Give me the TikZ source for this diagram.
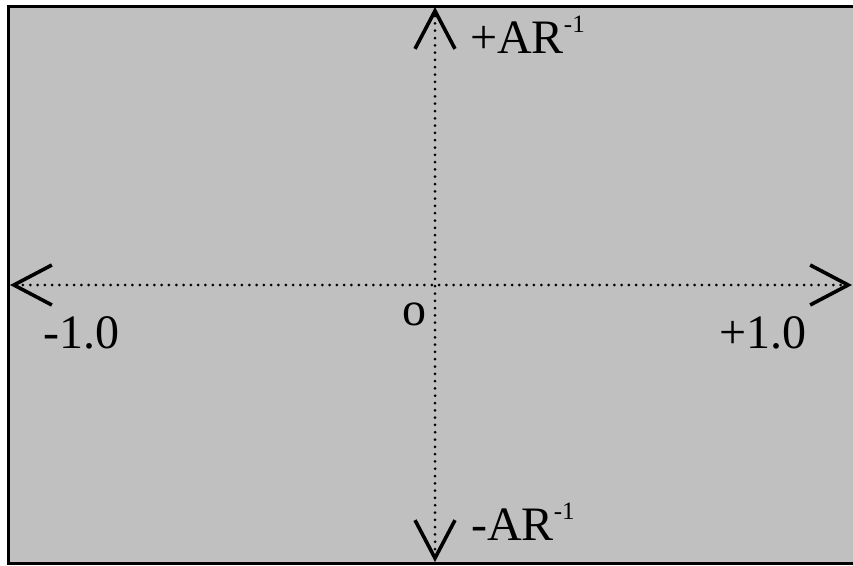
\documentclass[tikz,border=0pt]{standalone}
\usepackage{fontspec}
\setmainfont{Liberation Serif}
\usepackage{tikz}
\usetikzlibrary{arrows.meta}

\newcommand{\arsup}[1]{#1AR\raisebox{21pt}{\fontsize{25}{25}\selectfont -1}}

\begin{document}
\begin{tikzpicture}[x=1pt,y=-1pt,
  lab/.style={anchor=base west,inner sep=0pt,font=\fontsize{48}{50}\selectfont},
  axis/.style={line width=3pt,line cap=round,dash pattern=on 0pt off 7.3pt,
    {Straight Barb[length=38pt,width=40pt,line width=3.6pt]}-{Straight Barb[length=38pt,width=40pt,line width=3.6pt]}}]
\useasboundingbox (0,0) rectangle (853,565);
% panel: grey field with heavy frame (right edge runs off the page)
\begin{scope}
\clip (0,0) rectangle (853,565);
\draw[line width=3.3pt,fill={rgb,255:red,192;green,192;blue,192}] (8.3,6.7) rectangle (858,563.5);
\end{scope}
% end points of the two axes
\coordinate (pleft) at (10,285);
\coordinate (pright) at (852,285);
\coordinate (ptop) at (435,7);
\coordinate (pbot) at (435,562);
\draw[axis] (pleft) -- (pright);
\draw[axis] (pbot) -- (ptop);
% labels
\node[lab] (lorig) at (402,325) {o};
\node[lab] (lneg) at (43,348) {-1.0};
\node[lab] (lpos) at (719,348) {+1.0};
\node[lab] (ltop) at (470,53) {\arsup{+}};
\node[lab] (lbot) at (471,540) {\arsup{-}};
\end{tikzpicture}
\end{document}
